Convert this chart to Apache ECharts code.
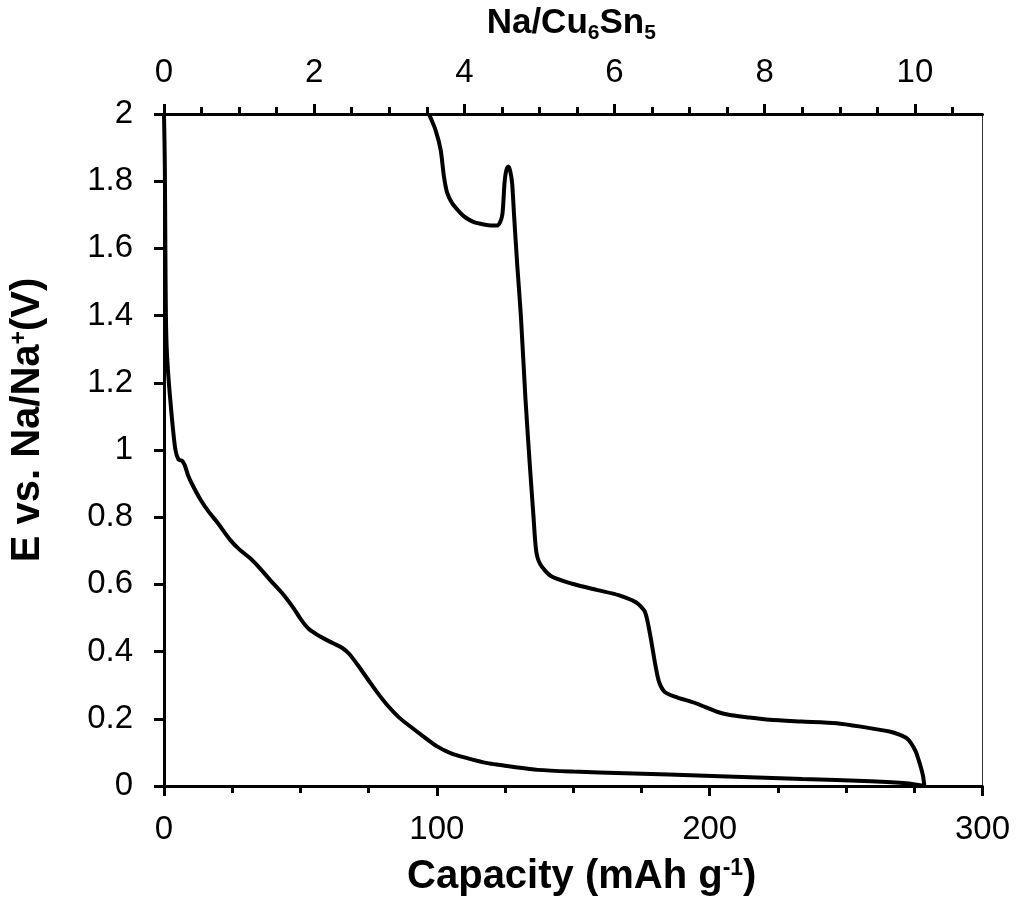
<!DOCTYPE html>
<html>
<head>
<meta charset="utf-8">
<script src="https://cdn.jsdelivr.net/npm/echarts@6/dist/echarts.min.js"></script>
<style>
  html, body { margin: 0; padding: 0; background: #fff; }
  #chart { width: 1016px; height: 902px; }
</style>
</head>
<body>
<div id="chart"></div>
<script>
// First-cycle voltage profile of a Cu6Sn5 electrode vs. Na/Na+
// Discharge (sodiation): capacity in mAh/g, potential in V
const dischargeCap = [0, 0.3, 0.5, 0.7, 1.0, 1.6, 2.3, 3.2, 4.2, 5.3, 6.6, 7.6, 8.8, 10.5, 13.4, 16.5, 19.5, 24.4, 27.5, 31.7, 35.5, 39.0, 43.5, 47.6, 50.0, 53.0, 57.4, 62.2, 65.5, 68.0, 71.0, 74.5, 78.0, 81.8, 86.0, 90.3, 95.0, 100.1, 105.0, 111.1, 118.5, 124.0, 129.5, 137.0, 150.0, 169.0, 201.0, 234.0, 259.0, 272.0, 278.7];
const dischargeV   = [2.0, 1.85, 1.6, 1.4, 1.3, 1.22, 1.15, 1.07, 1.0, 0.972, 0.968, 0.955, 0.925, 0.895, 0.852, 0.815, 0.785, 0.731, 0.705, 0.677, 0.645, 0.612, 0.572, 0.528, 0.498, 0.468, 0.444, 0.424, 0.41, 0.392, 0.36, 0.32, 0.28, 0.241, 0.205, 0.177, 0.148, 0.118, 0.098, 0.083, 0.068, 0.062, 0.055, 0.048, 0.043, 0.038, 0.03, 0.021, 0.014, 0.008, 0.0];

// Charge (desodiation): capacity runs back from the end of discharge
const chargeCap = [278.7, 278.2, 277.5, 276.5, 275.5, 274.0, 272.3, 269.5, 265.9, 256.0, 246.5, 233.6, 222.0, 214.3, 207.0, 202.7, 195.0, 187.2, 183.4, 181.4, 180.1, 178.2, 176.3, 173.1, 166.6, 158.9, 149.6, 141.8, 137.9, 136.4, 135.4, 134.1, 132.5, 130.8, 129.5, 128.3, 127.6, 126.9, 126.2, 125.4, 124.8, 124.4, 124.0, 123.2, 122.1, 120.0, 117.2, 113.6, 110.5, 108.7, 105.6, 103.8, 102.6, 101.4, 99.5, 97.1];
const chargeV   = [0.0, 0.03, 0.053, 0.08, 0.103, 0.125, 0.142, 0.153, 0.162, 0.176, 0.187, 0.192, 0.197, 0.204, 0.212, 0.221, 0.246, 0.266, 0.281, 0.311, 0.36, 0.449, 0.518, 0.546, 0.568, 0.583, 0.602, 0.625, 0.66, 0.7, 0.805, 0.953, 1.15, 1.4, 1.547, 1.7, 1.794, 1.83, 1.844, 1.83, 1.794, 1.74, 1.7, 1.678, 1.668, 1.668, 1.671, 1.678, 1.692, 1.705, 1.735, 1.765, 1.814, 1.893, 1.953, 2.0];

// Axis ranges and tick values
const capMin = 0, capMax = 300, capStep = 100;
const vMin = 0, vMax = 2, vStep = 0.2;
const naMax = 10.9;                      // Na per Cu6Sn5 at 300 mAh/g
const naMajorTicks = [0, 2, 4, 6, 8, 10];
const naMinorTicks = [0.5, 1, 1.5, 2.5, 3, 3.5, 4.5, 5, 5.5, 6.5, 7, 7.5, 8.5, 9, 9.5, 10.5];

const FONT = 'Liberation Sans, Arial, Helvetica, sans-serif';
const INK = '#000';

function pairs(xs, ys) { return xs.map((x, i) => [x, ys[i]]); }

const chart = echarts.init(document.getElementById('chart'), null, { renderer: 'canvas' });

const tickLabel = { color: INK, fontFamily: FONT, fontSize: 33 };

chart.setOption({
  backgroundColor: '#fff',
  animation: false,
  grid: {
    left: 164, right: 33.5, top: 114, bottom: 114,
    show: true, borderColor: '#333', borderWidth: 1, backgroundColor: 'transparent'
  },
  xAxis: [
    {
      type: 'value', position: 'bottom', min: capMin, max: capMax, interval: capStep,
      axisLine: { lineStyle: { color: INK, width: 3 } },
      axisTick: { inside: false, length: 10, lineStyle: { color: INK, width: 3 } },
      minorTick: { show: true, splitNumber: 4, length: 7, lineStyle: { color: INK, width: 3 } },
      splitLine: { show: false },
      axisLabel: Object.assign({ margin: 27 }, tickLabel),
      name: 'Capacity (mAh g{sup|-1})',
      nameLocation: 'middle', nameGap: 71,
      nameTextStyle: {
        color: INK, fontFamily: FONT, fontSize: 40, fontWeight: 'bold', padding: [0, 0, 0, 17],
        rich: { sup: { color: INK, fontFamily: FONT, fontSize: 23, fontWeight: 'bold', verticalAlign: 'top', lineHeight: 40 } }
      }
    },
    {
      type: 'value', position: 'top', min: 0, max: naMax,
      axisLine: { lineStyle: { color: INK, width: 3 } },
      axisTick: { inside: false, length: 10, customValues: naMajorTicks, lineStyle: { color: INK, width: 3 } },
      splitLine: { show: false },
      axisLabel: Object.assign({ margin: 25, customValues: naMajorTicks }, tickLabel),
      name: 'Na/Cu{sub|6}Sn{sub|5}',
      nameLocation: 'middle', nameGap: 70,
      nameTextStyle: {
        color: INK, fontFamily: FONT, fontSize: 35, fontWeight: 'bold', padding: [0, 4, 0, 0],
        rich: { sub: { color: INK, fontFamily: FONT, fontSize: 21, fontWeight: 'bold', verticalAlign: 'bottom', lineHeight: 42 } }
      }
    },
    {
      type: 'value', position: 'top', min: 0, max: naMax,
      axisLine: { show: false },
      axisTick: { inside: false, length: 7, customValues: naMinorTicks, lineStyle: { color: INK, width: 3 } },
      splitLine: { show: false },
      axisLabel: { show: false }
    }
  ],
  yAxis: {
    type: 'value', min: vMin, max: vMax, interval: vStep,
    axisLine: { lineStyle: { color: INK, width: 3 } },
    axisTick: { inside: false, length: 10, lineStyle: { color: INK, width: 3 } },
    splitLine: { show: false },
    axisLabel: Object.assign({ margin: 31 }, tickLabel),
    name: 'E vs. Na/Na{sup|+}(V)',
    nameLocation: 'middle', nameGap: 116, nameRotate: 90,
    nameTextStyle: {
      color: INK, fontFamily: FONT, fontSize: 40, fontWeight: 'bold', padding: [0, 0, 0, 60],
      rich: { sup: { color: INK, fontFamily: FONT, fontSize: 23, fontWeight: 'bold', verticalAlign: 'top', lineHeight: 40 } }
    }
  },
  series: [
    {
      name: 'Discharge', type: 'line', xAxisIndex: 0, yAxisIndex: 0,
      data: pairs(dischargeCap, dischargeV),
      showSymbol: false, smooth: 0.3, clip: true,
      lineStyle: { color: INK, width: 4 }
    },
    {
      name: 'Charge', type: 'line', xAxisIndex: 0, yAxisIndex: 0,
      data: pairs(chargeCap, chargeV),
      showSymbol: false, smooth: 0.25, clip: true,
      lineStyle: { color: INK, width: 4 }
    }
  ]
});
</script>
</body>
</html>
